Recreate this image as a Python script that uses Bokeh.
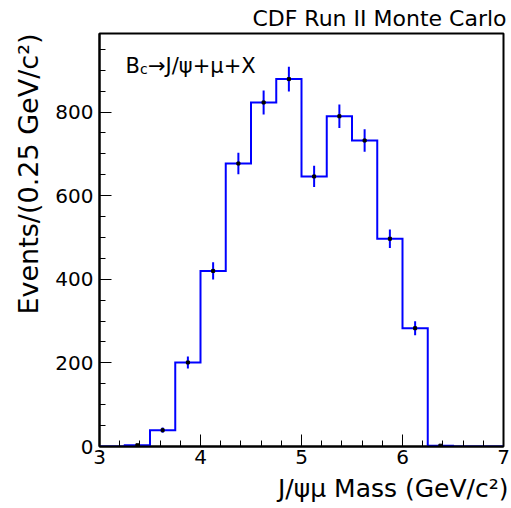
import numpy as np
from bokeh.plotting import figure
from bokeh.models import Range1d, SingleIntervalTicker, Label, ColumnDataSource, Title
from bokeh.embed import file_html
from bokeh.resources import INLINE

# ---- data ----
bin_edges = [3.0, 3.25, 3.5, 3.75, 4.0, 4.25, 4.5, 4.75, 5.0, 5.25, 5.5, 5.75, 6.0, 6.25, 6.5, 6.75, 7.0]
counts = [0, 3, 39, 201, 420, 677, 823, 879, 646, 790, 732, 497, 283, 2, 0, 0]
errors = [0, 1.7, 6.2, 14.2, 20.5, 26.0, 28.7, 29.6, 25.4, 28.1, 27.1, 22.3, 16.8, 1.4, 0, 0]

W, H = 510, 507
FONT = "DejaVu Sans"

p = figure(width=W, height=H, output_backend="svg", toolbar_location=None,
           x_range=Range1d(3, 7), y_range=Range1d(0, 988),
           min_border_left=99, min_border_right=W - 503, min_border_top=33,
           min_border_bottom=H - 446)
p.xgrid.visible = False
p.ygrid.visible = False
p.background_fill_color = "white"
p.border_fill_color = "white"
p.outline_line_color = "black"
p.outline_line_width = 2

p.xaxis.ticker = SingleIntervalTicker(interval=1, num_minor_ticks=5)
p.yaxis.ticker = SingleIntervalTicker(interval=200, num_minor_ticks=4)
for ax in (p.xaxis[0], p.yaxis[0]):
    ax.axis_line_color = "black"
    ax.axis_line_width = 2
    ax.major_tick_in = 12
    ax.major_tick_out = 0
    ax.minor_tick_in = 6
    ax.minor_tick_out = 0
    ax.major_tick_line_color = "black"
    ax.minor_tick_line_color = "black"
    ax.major_label_text_font = FONT
    ax.major_label_text_font_size = "20px"
    ax.major_label_text_color = "black"
p.xaxis.major_label_standoff = 3
p.yaxis.major_label_standoff = 6

# histogram outline built from the bins
e = np.array(bin_edges)
c = np.array(counts, dtype=float)
xs = np.concatenate([[e[0]], np.repeat(e, 2)[1:-1], [e[-1]]])
ys = np.concatenate([[0], np.repeat(c, 2), [0]])
p.line(xs, ys, line_color="#0000ff", line_width=2, line_join="miter")

centers = (e[:-1] + e[1:]) / 2
err = np.array(errors)
nz = [i for i, v in enumerate(counts) if v > 0]
src_nz = ColumnDataSource(dict(x=centers[nz], y=c[nz], lo=(c - err)[nz], hi=(c + err)[nz]))
p.segment(x0="x", y0="lo", x1="x", y1="hi", source=src_nz, line_color="#0000ff", line_width=2)
p.scatter(x="x", y="y", source=src_nz, marker="square", size=3, fill_color="black", line_color="black")

# top title
p.title.text = "CDF Run II Monte Carlo"
p.title.align = "right"
p.title.text_font = FONT
p.title.text_font_size = "22px"
p.title.text_font_style = "normal"
p.title.text_color = "black"
p.title.standoff = 5
p.title.offset = -3

# axis titles as side titles
p.add_layout(Title(text="Events/(0.25 GeV/c\u00b2)", align="right", text_font=FONT,
                   text_font_size="27px", text_font_style="normal", text_color="black",
                   standoff=18), "left")
p.add_layout(Title(text="J/\u03c8\u03bc Mass (GeV/c\u00b2)", align="right", text_font=FONT,
                   text_font_size="25px", text_font_style="normal", text_color="black",
                   standoff=10, offset=-5), "below")

# in-frame label B_c -> J/psi + mu + X (frame-relative screen units)
p.add_layout(Label(x=26, y=381, x_units="screen", y_units="screen",
                   text="B", text_font=FONT, text_font_size="21px",
                   text_align="left", text_baseline="alphabetic", text_color="black"))
p.add_layout(Label(x=40.5, y=378, x_units="screen", y_units="screen",
                   text="c", text_font=FONT, text_font_size="14px",
                   text_align="left", text_baseline="alphabetic", text_color="black"))
p.add_layout(Label(x=48.5, y=381, x_units="screen", y_units="screen",
                   text="\u2192J/\u03c8+\u03bc+X", text_font=FONT, text_font_size="21px",
                   text_align="left", text_baseline="alphabetic", text_color="black"))

open("out.html", "w").write(file_html(p, INLINE))
